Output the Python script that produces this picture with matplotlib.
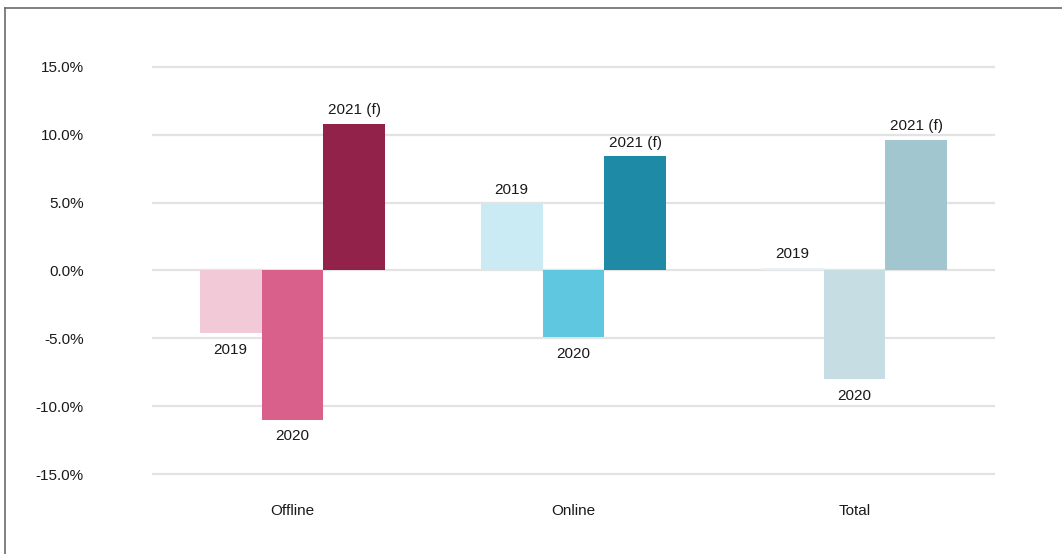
import numpy as np
import matplotlib
matplotlib.use("Agg")
import matplotlib.pyplot as plt
from matplotlib.lines import Line2D

plt.rcParams["font.family"] = ["Liberation Sans", "DejaVu Sans"]

categories = ["Offline", "Online", "Total"]
years = ["2019", "2020", "2021 (f)"]
# growth in % per category, one list per year
growth_2019 = [-4.6, 4.9, 0.2]
growth_2020 = [-11.0, -4.9, -8.0]
growth_2021 = [10.8, 8.4, 9.6]
yticks = [-15, -10, -5, 0, 5, 10, 15]

colors = [
    ["#F2C9D7", "#D9608A", "#93224A"],   # Offline
    ["#CAEBF3", "#60C7E0", "#1F8AA6"],   # Online
    ["#E6F2F4", "#C6DDE3", "#A2C6CF"],   # Total
]

W, H = 1062, 554
fig = plt.figure(figsize=(W / 100, H / 100), dpi=100)
ax = fig.add_axes([152 / W, 0.1199, 843 / W, 0.7838])

series = [growth_2019, growth_2020, growth_2021]
width = 0.22
x = np.arange(len(categories))
for j, (yr, vals) in enumerate(zip(years, series)):
    xs = x + (j - 1) * width
    ax.bar(xs, vals, width=width, color=[colors[i][j] for i in range(len(categories))],
           zorder=2)
    for xi, v in zip(xs, vals):
        if v >= 0:
            ax.annotate(yr, (xi, v), xytext=(0, 5), textcoords="offset points",
                        ha="center", va="bottom", fontsize=11, color="#1a1a1a")
        else:
            ax.annotate(yr, (xi, v), xytext=(0, -7), textcoords="offset points",
                        ha="center", va="top", fontsize=11, color="#1a1a1a")

ax.set_xlim(-0.5, 2.5)
ax.set_ylim(-16, 16)
ax.set_yticks(yticks)
ax.set_yticklabels([f"{t:.1f}%" for t in yticks])
ax.yaxis.grid(True, color="#E3E3E3", lw=1.6, zorder=0)
ax.set_axisbelow(True)
ax.set_xticks(x)
ax.set_xticklabels(categories)
ax.tick_params(axis="y", length=0, pad=49, labelsize=11, labelcolor="#1a1a1a")
ax.tick_params(axis="x", length=0, pad=12, labelsize=11, labelcolor="#1a1a1a")
for s in ax.spines.values():
    s.set_visible(False)

# outer frame (left and top edges only)
fig.add_artist(Line2D([5 / W, 5 / W], [0, 1 - 8 / H], transform=fig.transFigure,
                      color="#6b6b6b", lw=1.2))
fig.add_artist(Line2D([5 / W, 1], [1 - 8 / H, 1 - 8 / H], transform=fig.transFigure,
                      color="#6b6b6b", lw=1.2))

fig.savefig("out.png", dpi=100)
